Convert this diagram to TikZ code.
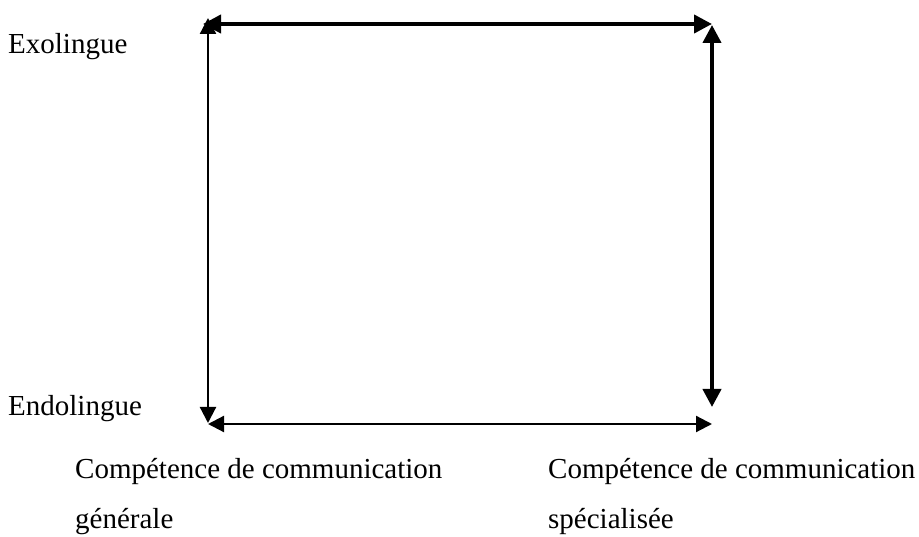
\documentclass[tikz,border=0pt]{standalone}
\usepackage{fontspec}
\setmainfont{Liberation Serif}
\usetikzlibrary{arrows.meta}
\begin{document}
\begin{tikzpicture}[x=1pt,y=-1pt,
  lbl/.style={anchor=base west,inner sep=0pt,font=\fontsize{29}{35}\selectfont},
  thinarrow/.style={line width=2.2pt,{Triangle[length=16pt,width=16pt]}-{Triangle[length=16pt,width=16pt]}},
  thickarrow/.style={line width=4pt,{Triangle[length=18pt,width=18pt]}-{Triangle[length=18pt,width=18pt]}}]
\useasboundingbox (0,0) rectangle (919,537);
% corners of the square
\coordinate (tl) at (203,24);
\coordinate (tr) at (712,24);
\coordinate (ltop) at (208,18);
\coordinate (lbot) at (208,423);
\coordinate (rtop) at (712,25);
\coordinate (rbot) at (712,407);
\coordinate (bl) at (208,424);
\coordinate (br) at (712,424);
\draw[thickarrow] (tl) -- (tr);
\draw[thickarrow] (rtop) -- (rbot);
\draw[thinarrow] (ltop) -- (lbot);
\draw[thinarrow] (bl) -- (br);
% labels
\node[lbl] (exo) at (8,54) {Exolingue};
\node[lbl] (endo) at (8,416) {Endolingue};
\node[lbl] (gen1) at (75,478) {Compétence de communication};
\node[lbl] (gen2) at (75,528) {générale};
\node[lbl] (spe1) at (548,478) {Compétence de communication};
\node[lbl] (spe2) at (548,528) {spécialisée};
\end{tikzpicture}
\end{document}
